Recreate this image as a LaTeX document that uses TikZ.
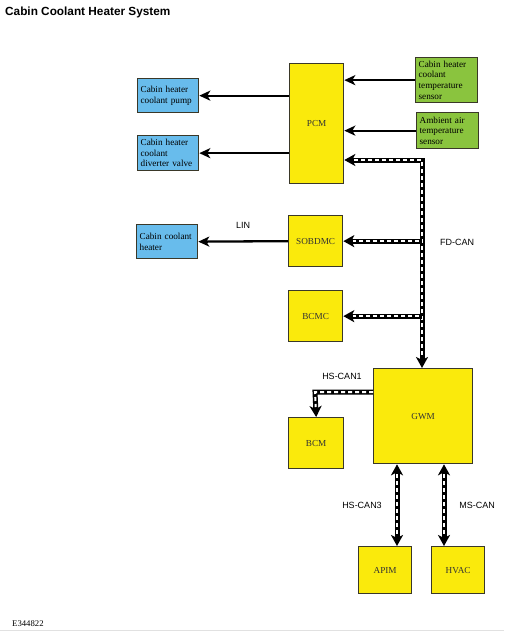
\documentclass[tikz,border=0pt]{standalone}
\usepackage{fontspec}
\setmainfont{Liberation Serif}
\newfontfamily\arialfont{Liberation Sans}
\usepackage{tikz}
\usetikzlibrary{calc,arrows.meta,positioning}
\definecolor{heaterYellow}{RGB}{250,234,12}
\definecolor{heaterBlue}{RGB}{104,188,236}
\definecolor{heaterGreen}{RGB}{138,196,62}
\definecolor{boxEdge}{RGB}{58,56,40}
\definecolor{ruleGray}{RGB}{225,225,225}

\begin{document}
\begin{tikzpicture}[x=1pt,y=-1pt,
  modbox/.style={draw=boxEdge, line width=1.3pt, anchor=north west, inner sep=3pt,
    font=\fontsize{9.2}{10.6}\selectfont},
  ecu/.style={modbox, fill=heaterYellow, text=black!80},
  actuator/.style={modbox, fill=heaterBlue, align=left, text width=55pt},
  sensor/.style={modbox, fill=heaterGreen, align=left, text width=56pt},
  wire/.style={line width=2.3pt, -{Stealth[length=11pt,width=10pt,inset=3pt]}},
  bus/.style={line width=5pt, line join=miter},
  busend/.style={bus, -{Stealth[length=11pt,width=12pt,inset=3pt]}},
  busboth/.style={bus, {Stealth[length=11pt,width=12pt,inset=3pt]}-{Stealth[length=11pt,width=12pt,inset=3pt]}},
  busdash/.style={white, line width=2pt, dash pattern=on 4pt off 3pt},
  netlabel/.style={font=\arialfont\fontsize{9}{10}\selectfont}]
\useasboundingbox (0,0) rectangle (504,634);
\node[anchor=west, inner sep=0pt, font=\arialfont\bfseries\fontsize{11.8}{13}\selectfont] (title) at (5,12) {Cabin Coolant Heater System};

% modules
\node[ecu, minimum width=54pt, minimum height=120pt] (pcm) at (289,63) {PCM};
\node[ecu, minimum width=54pt, minimum height=51pt] (sobdmc) at (288,215) {SOBDMC};
\node[ecu, minimum width=54pt, minimum height=51pt] (bcmc) at (288,290) {BCMC};
\node[ecu, minimum width=99pt, minimum height=95pt] (gwm) at (373,368) {GWM};
\node[ecu, minimum width=55pt, minimum height=51pt] (bcm) at (288,417) {BCM};
\node[ecu, minimum width=53pt, minimum height=47pt] (apim) at (358,546) {APIM};
\node[ecu, minimum width=53pt, minimum height=47pt] (hvac) at (431,546) {HVAC};

\node[actuator, minimum height=34pt] (pump) at (137,78) {Cabin heater\\coolant pump};
\node[actuator, minimum height=35pt] (valve) at (137,135) {Cabin heater\\coolant\\diverter valve};
\node[actuator, minimum height=34pt] (heater) at (136,224) {Cabin coolant\\heater};
\node[sensor, minimum height=45pt] (ctsensor) at (415,57) {Cabin heater\\coolant\\temperature\\sensor};
\node[sensor, minimum height=36pt] (atsensor) at (416,112) {Ambient air\\temperature\\sensor};

% hard wires
\draw[wire] (ctsensor.west) -- (ctsensor.west -| pcm.east);
\draw[wire] (atsensor.west) -- (atsensor.west -| pcm.east);
\draw[wire] (pcm.west |- pump.east) -- (pump.east);
\draw[wire] (pcm.west |- valve.east) -- (valve.east);
\draw[wire] (sobdmc.west) -- (heater.east);
\node[netlabel] (lin) at (243,225) {LIN};

% networks
\coordinate (fdcorner) at (422,160);
\coordinate (hs1corner) at (315,392);
\coordinate (hs3) at (397,0);
\coordinate (mscan) at (444,0);
\draw[busboth] (pcm.east |- fdcorner) -- (fdcorner) -- (fdcorner |- gwm.north);
\draw[busdash, shorten <=10pt, shorten >=10pt] (pcm.east |- fdcorner) -- (fdcorner) -- (fdcorner |- gwm.north);
\draw[busend] (gwm.west |- hs1corner) -- (hs1corner) -- (bcm.north);
\draw[busdash, shorten >=10pt] (gwm.west |- hs1corner) -- (hs1corner) -- (bcm.north);
\foreach \a/\b in {fdcorner |- sobdmc/sobdmc.east, fdcorner |- bcmc/bcmc.east}
{
  \draw[busend] (\a) -- (\b);
  \draw[busdash, shorten <=3pt, shorten >=10pt] (\a) -- (\b);
}
\foreach \a/\b in {hs3 |- gwm.south/hs3 |- apim.north, mscan |- gwm.south/mscan |- hvac.north}
{
  \draw[busboth] (\a) -- (\b);
  \draw[busdash, shorten <=10pt, shorten >=10pt] (\a) -- (\b);
}
\node[netlabel] (fdcan) at (457,242) {FD-CAN};
\node[netlabel] (hscan1) at (342,376) {HS-CAN1};
\node[netlabel] (hscan3) at (362,505) {HS-CAN3};
\node[netlabel] (mscanlabel) at (477,505) {MS-CAN};

\node[anchor=west, inner sep=0pt, font=\fontsize{8.7}{10}\selectfont] (figid) at (12,624) {E344822};
\draw[ruleGray, line width=0.8pt] (0,630) -- (504,630);
\end{tikzpicture}
\end{document}
